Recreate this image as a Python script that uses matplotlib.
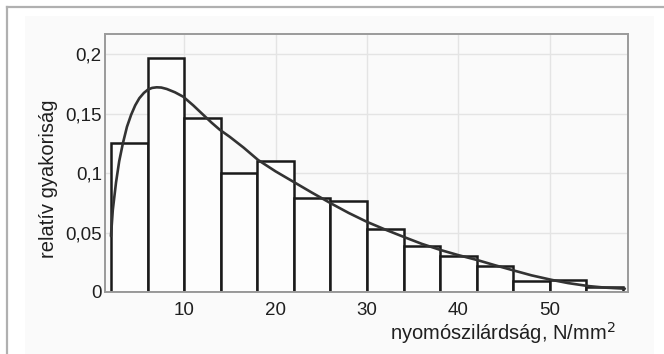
"""
Nyomószilárdság relatív gyakorisága - hisztogram illesztett görbével
"""

import matplotlib.pyplot as plt
from matplotlib.patches import Rectangle
from matplotlib.lines import Line2D

plt.rcParams['font.family'] = ['Liberation Sans', 'DejaVu Sans']

# osztályhatárok és relatív gyakoriságok
bin_edges = [2, 6, 10, 14, 18, 22, 26, 30, 34, 38, 42, 46, 50, 54, 58]
rel_freq = [0.125, 0.197, 0.146, 0.1005, 0.1105, 0.0792, 0.0765,
            0.0533, 0.0385, 0.0300, 0.0218, 0.0090, 0.0097, 0.0040]

# illesztett sűrűségfüggvény (leolvasott pontok)
curve_x = [2.0, 2.2, 2.55, 2.9, 3.3, 3.75, 4.2, 4.65, 5.1, 5.6, 6.05, 6.5, 7.0,
           7.5, 8.1, 9.0, 9.9, 11.0, 12.1, 13.0, 13.9, 15.0, 16.5, 18.1, 20.0,
           22.0, 24.0, 26.0, 28.0, 30.0, 32.0, 34.2, 36.0, 38.1, 40.0, 42.1,
           44.0, 46.1, 48.0, 50.2, 52.0, 54.2, 56.0, 58.2]
curve_y = [0.047, 0.069, 0.092, 0.110, 0.125, 0.139, 0.149, 0.157, 0.163, 0.1675,
           0.1703, 0.1717, 0.1722, 0.1720, 0.1708, 0.1680, 0.1643, 0.1570, 0.1490,
           0.1425, 0.1365, 0.1305, 0.1215, 0.1110, 0.1015, 0.0925, 0.0835, 0.0748,
           0.0665, 0.0590, 0.0525, 0.0458, 0.0405, 0.0352, 0.0310, 0.0268, 0.0225,
           0.0180, 0.0140, 0.0102, 0.0075, 0.0050, 0.0037, 0.0028]

x_ticks = [10, 20, 30, 40, 50]
y_ticks = [0, 0.05, 0.1, 0.15, 0.2]
y_ticklabels = ['0', '0,05', '0,1', '0,15', '0,2']

fig = plt.figure(figsize=(6.64, 3.54), dpi=100, facecolor='white')

# halvány háttérpanel és keret
fig.patches.append(Rectangle((25 / 664, 0), (654 - 25) / 664, 1 - 16 / 354,
                             transform=fig.transFigure, facecolor='#fafafa',
                             edgecolor='none', zorder=-2))
fig.lines.append(Line2D([7 / 664, 1], [1 - 7 / 354, 1 - 7 / 354],
                        transform=fig.transFigure, color='#b0b0b0', lw=1.6, zorder=-1))
fig.lines.append(Line2D([7 / 664, 7 / 664], [0, 1 - 7 / 354],
                        transform=fig.transFigure, color='#b0b0b0', lw=1.6, zorder=-1))

ax = fig.add_axes([105.3 / 664, 1 - 292 / 354, (628.3 - 105.3) / 664, (292 - 33.7) / 354])
ax.set_zorder(1)
ax.set_facecolor('#fafafa')

widths = [b - a for a, b in zip(bin_edges[:-1], bin_edges[1:])]
ax.bar(bin_edges[:-1], rel_freq, width=widths, align='edge',
       facecolor='#fdfdfd', edgecolor='#1a1a1a', linewidth=1.8, zorder=2)
ax.plot(curve_x, curve_y, color='#333333', linewidth=1.9, zorder=3,
        solid_capstyle='round', solid_joinstyle='round')

ax.set_xlim(1.38, 58.58)
ax.set_ylim(0, 0.2173)
ax.set_xticks(x_ticks)
ax.set_yticks(y_ticks)
ax.set_yticklabels(y_ticklabels)
ax.tick_params(length=0, labelsize=13.5, colors='#1f1f1f')
ax.tick_params(axis='x', pad=7)
ax.tick_params(axis='y', pad=2.5)
ax.grid(True, color='#e4e4e4', linewidth=1.0, zorder=0)
ax.set_axisbelow(True)

for side in ['left', 'top', 'right', 'bottom']:
    ax.spines[side].set_color('#9a9a9a')
    ax.spines[side].set_linewidth(1.4)

ax.set_ylabel('relatív gyakoriság', fontsize=14.5, color='#1f1f1f')
ax.yaxis.set_label_coords(-0.090, 0.4375)
ax.text(0.975, -0.186, 'nyomószilárdság, N/mm$^2$', transform=ax.transAxes,
        ha='right', va='baseline', fontsize=14.5, color='#1f1f1f')

plt.savefig('out.png', dpi=100)
